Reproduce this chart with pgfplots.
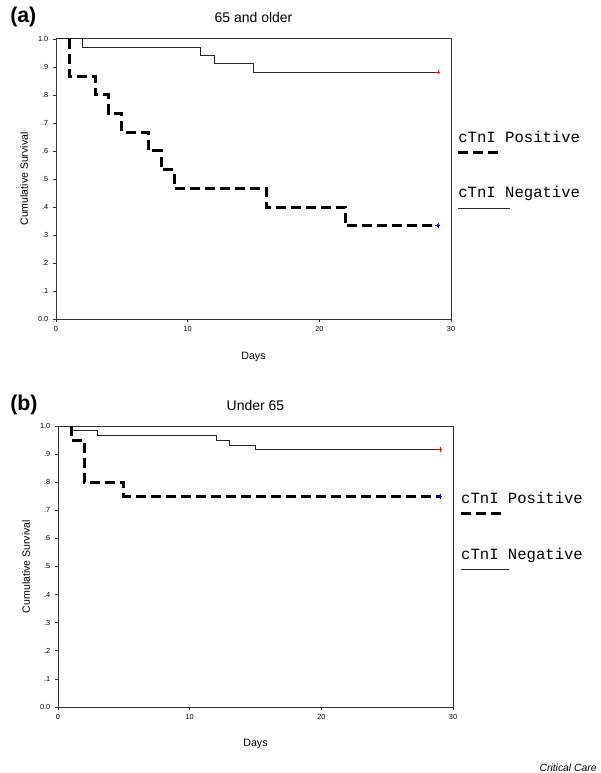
\documentclass[border=0pt]{standalone}
\usepackage{fontspec}
\setmainfont{Liberation Sans}
\newfontfamily\courierfont{Liberation Mono}
\usepackage{pgfplots}
\pgfplotsset{compat=1.18}
\tikzset{
  kmpos/.style={black, line width=2.25pt, dash pattern=on 7.5pt off 3.75pt},
  kmneg/.style={black!85, line width=0.75pt},
}
\pgfplotsset{
  km/.style={
    scale only axis, width=296.25pt, height=210pt,
    xmin=0, xmax=30, ymin=0, ymax=1,
    xtick={0,10,20,30}, xticklabels={0,10,20,30},
    ytick={0,0.1,0.2,0.3,0.4,0.5,0.6,0.7,0.8,0.9,1},
    yticklabels={0.0,.1,.2,.3,.4,.5,.6,.7,.8,.9,1.0},
    tick align=outside, xtick pos=left, ytick pos=left,
    major tick length=2.25pt,
    tick style={line width=0.6pt, black!80},
    axis line style={line width=0.75pt, black!80},
    ticklabel style={font=\fontsize{5.5}{6}\selectfont},
    /pgf/number format/assume math mode=true,
    clip=false,
    title style={anchor=center, font=\fontsize{10.5}{12}\selectfont},
    xlabel style={anchor=center, font=\fontsize{8}{10}\selectfont},
    ylabel style={anchor=center, font=\fontsize{7.9}{10}\selectfont},
    xlabel={Days}, ylabel={Cumulative Survival},
  },
}
\begin{document}
\begin{tikzpicture}
\path[use as bounding box] (0,0) rectangle (450pt,-579.75pt);
\node[anchor=west, inner sep=0pt, font=\bfseries\fontsize{16}{18}\selectfont] at (7.5pt,-12.75pt) {(a)};
\node[anchor=west, inner sep=0pt, font=\bfseries\fontsize{16}{18}\selectfont] at (7.5pt,-303.75pt) {(b)};
\node[anchor=east, inner sep=0pt, font=\itshape\fontsize{7.8}{9}\selectfont] at (447.75pt,-576pt) {Critical Care};

% (a) 65 and older
\begin{axis}[km, at={(42pt,-239.25pt)}, anchor=south west,
  title={65 and older},
  title style={at={(axis description cs:0.5,1.047)}},
  xlabel style={at={(axis description cs:0.5,-0.137)}},
  ylabel style={at={(axis description cs:-0.081,0.5)}}]
\addplot[kmneg] coordinates {(0,1) (2,1) (2,0.971) (11,0.971) (11,0.941) (12,0.941) (12,0.912) (15,0.912) (15,0.882) (29,0.882)};
\addplot[kmpos] coordinates {(1,1) (1,0.867) (3,0.867) (3,0.8) (4,0.8) (4,0.733) (5,0.733) (5,0.667) (7,0.667) (7,0.6) (8,0.6) (8,0.533) (9,0.533) (9,0.467) (16,0.467) (16,0.4) (22,0.4) (22,0.333) (29,0.333)};
\addplot[only marks, mark=+, red, mark size=1.8pt, line width=0.5pt] coordinates {(29,0.882)};
\addplot[only marks, mark=+, blue, mark size=1.8pt, line width=0.5pt] coordinates {(29,0.333)};
\node[anchor=west, inner sep=0pt, font=\courierfont\fontsize{11.7}{13}\selectfont] at (rel axis cs:1.018,0.65) {cTnI Positive};
\draw[kmpos] (rel axis cs:1.018,0.596) -- (rel axis cs:1.124,0.596);
\node[anchor=west, inner sep=0pt, font=\courierfont\fontsize{11.7}{13}\selectfont] at (rel axis cs:1.018,0.45) {cTnI Negative};
\draw[kmneg] (rel axis cs:1.018,0.393) -- (rel axis cs:1.15,0.393);
\end{axis}

% (b) Under 65
\begin{axis}[km, height=210.75pt, at={(43.5pt,-530.25pt)}, anchor=south west,
  title={Under 65},
  title style={at={(axis description cs:0.5,1.043)}},
  xlabel style={at={(axis description cs:0.5,-0.133)}},
  ylabel style={at={(axis description cs:-0.081,0.5)}}]
\addplot[kmneg] coordinates {(0,1) (1,1) (1,0.983) (3,0.983) (3,0.965) (12,0.965) (12,0.947) (13,0.947) (13,0.932) (15,0.932) (15,0.916) (29,0.916)};
\addplot[kmpos] coordinates {(1,1) (1,0.95) (2,0.95) (2,0.8) (5,0.8) (5,0.75) (29,0.75)};
\addplot[only marks, mark=+, red, mark size=1.8pt, line width=0.5pt] coordinates {(29,0.916)};
\addplot[only marks, mark=+, blue, mark size=1.8pt, line width=0.5pt] coordinates {(29,0.75)};
\node[anchor=west, inner sep=0pt, font=\courierfont\fontsize{11.7}{13}\selectfont] at (rel axis cs:1.02,0.744) {cTnI Positive};
\draw[kmpos] (rel axis cs:1.02,0.69) -- (rel axis cs:1.126,0.69);
\node[anchor=west, inner sep=0pt, font=\courierfont\fontsize{11.7}{13}\selectfont] at (rel axis cs:1.02,0.541) {cTnI Negative};
\draw[kmneg] (rel axis cs:1.02,0.488) -- (rel axis cs:1.142,0.488);
\end{axis}
\end{tikzpicture}
\end{document}
